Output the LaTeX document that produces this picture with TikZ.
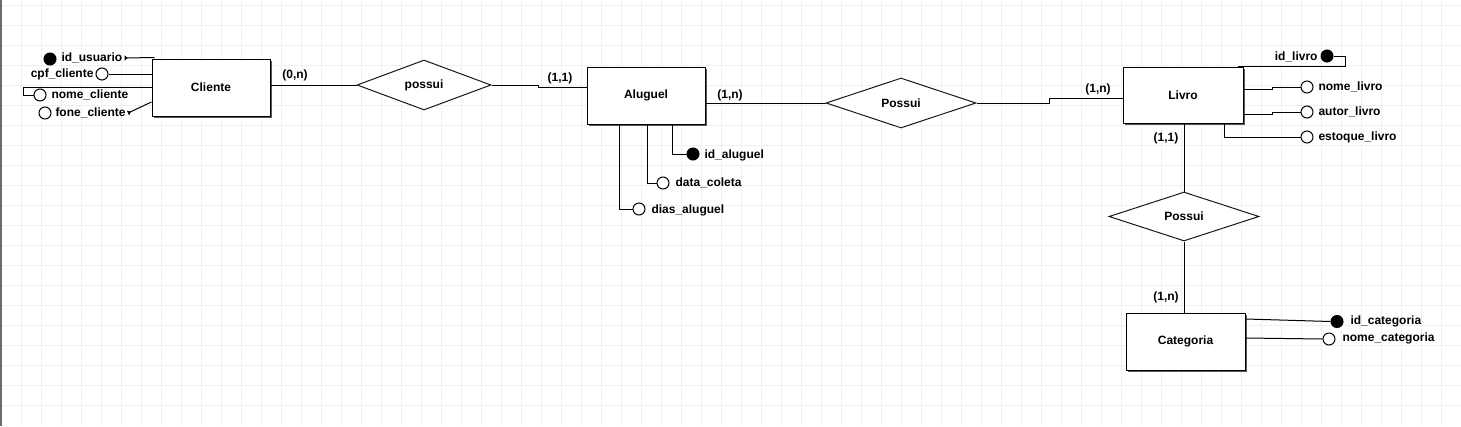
\documentclass[tikz,border=0pt]{standalone}
\usepackage{fontspec}
\setmainfont{Liberation Sans}
\usetikzlibrary{shapes.geometric,shadows,arrows.meta,calc}
\definecolor{gridc}{HTML}{EDF0F5}
\definecolor{barc}{HTML}{6B6B6B}
\begin{document}
\begin{tikzpicture}[x=1pt,y=-1pt,line width=1pt,
  font=\bfseries\fontsize{12}{14}\selectfont,
  entity/.style={draw, fill=white, minimum width=118pt, minimum height=57pt, inner sep=0,
    general shadow={fill=black!65, shadow xshift=2pt, shadow yshift=-2pt}},
  rel/.style={diamond, draw=black!90, fill=white, minimum height=50pt, inner sep=0, aspect=2.8},
  keyattr/.style={circle, draw, fill=black, minimum size=12pt, inner sep=0},
  attr/.style={circle, draw, fill=white, minimum size=12pt, inner sep=0},
  lbl/.style={inner sep=0, text height=8.5pt, text depth=2.5pt},
  card/.style={lbl},
  tipln/.style={{Triangle[reversed,length=3pt,width=5pt]}-}]
\useasboundingbox (0,0) rectangle (1461,426);
\fill[white] (0,0) rectangle (1461,426);
\foreach \i in {0,...,71} \draw[gridc] (21.7+20*\i,0) -- (21.7+20*\i,426);
\foreach \j in {0,...,20} \draw[gridc] (0,5+20*\j) -- (1461,5+20*\j);
\fill[barc] (0,0) rectangle (2,426);

% entities
\node[entity] (cliente) at (211,87.5) {Cliente};
\node[entity] (aluguel) at (646,95.5) {Aluguel};
\node[entity, minimum width=120pt, minimum height=56pt] (livro) at (1183,95) {Livro};
\node[entity, minimum width=119pt] (categoria) at (1185.5,341.5) {Categoria};

% relationships
\node[rel, minimum width=134pt] (possui1) at (424,85) {possui};
\node[rel, minimum width=150pt] (possui2) at (901,103) {Possui};
\node[rel, minimum width=150pt, minimum height=49pt] (possui3) at (1184,216.5) {Possui};

% Cliente attributes
\node[keyattr] (idus) at (50,59) {};
\node[lbl, anchor=west] (idusT) at (61,58) {id\_usuario};
\node[attr] (cpf) at (102,74) {};
\node[lbl, anchor=east] (cpfT) at (94,74) {cpf\_cliente};
\node[attr] (nome) at (40,95) {};
\node[lbl, anchor=west] (nomeT) at (51,95) {nome\_cliente};
\node[attr] (fone) at (45,113) {};
\node[lbl, anchor=west] (foneT) at (55,113) {fone\_cliente};
\coordinate (nb) at (23,87.5);
\draw[tipln] ([xshift=2pt]idusT.east) -- ([xshift=3pt,yshift=1pt]cliente.north west);
\draw (cpf.east) -- (cpf -| cliente.west);
\draw (cliente.west) -- (nb) |- (nome.west);
\draw[tipln] ([xshift=2pt]foneT.east) -- ([yshift=-14.5pt]cliente.west);

% Aluguel attributes
\node[keyattr] (idal) at (693,154) {};
\node[lbl, anchor=west] (idalT) at (704,155) {id\_aluguel};
\node[attr] (dc) at (663,183) {};
\node[lbl, anchor=west] (dcT) at (675,183) {data\_coleta};
\node[attr] (da) at (639,209) {};
\node[lbl, anchor=west] (daT) at (651,210) {dias\_aluguel};
\draw (idal.west) -| ([xshift=86pt]aluguel.south west);
\draw (dc.west) -| ([xshift=61pt]aluguel.south west);
\draw (da.west) -| ([xshift=33pt]aluguel.south west);

% Livro attributes
\node[keyattr] (idl) at (1327,56) {};
\node[lbl, anchor=east] (idlT) at (1318,57) {id\_livro};
\node[attr] (nl) at (1307,87) {};
\node[lbl, anchor=west] (nlT) at (1318,87) {nome\_livro};
\node[attr] (al) at (1307,112) {};
\node[lbl, anchor=west] (alT) at (1318,112) {autor\_livro};
\node[attr] (el) at (1307,137) {};
\node[lbl, anchor=west] (elT) at (1318,137) {estoque\_livro};
\draw (idl.east) -- ++(12,0) |- ([xshift=-6pt]livro.north east);
\draw ([yshift=6pt]livro.east) -- ++(29,0) |- (nl.west);
\draw ([yshift=-19pt]livro.east) -- ++(29,0) |- (al.west);
\draw ([xshift=-19pt]livro.south east) |- (el.west);

% Categoria attributes
\node[keyattr] (idc) at (1337,321.5) {};
\node[lbl, anchor=west] (idcT) at (1350,321) {id\_categoria};
\node[attr] (nc) at (1329,339) {};
\node[lbl, anchor=west] (ncT) at (1342,338) {nome\_categoria};
\draw ([yshift=22.5pt]categoria.east) -- (idc.west);
\draw ([yshift=3.5pt]categoria.east) -- (nc.west);

% relationship connectors
\draw (cliente.east |- possui1.west) -- (possui1.west);
\draw (possui1.east) -- ++(47,0) |- ([yshift=8.5pt]aluguel.west);
\draw (aluguel.east |- possui2.west) -- (possui2.west);
\draw (possui2.east) -- ++(73,0) |- ([yshift=-3pt]livro.west);
\draw (livro.south -| possui3.north) -- (possui3.north);
\draw (possui3.south) -- (possui3.south |- categoria.north);

% cardinalities
\node[card] (c1) at (295,75) {(0,n)};
\node[card] (c2) at (560,78) {(1,1)};
\node[card] (c3) at (730,95) {(1,n)};
\node[card] (c4) at (1098,89) {(1,n)};
\node[card] (c5) at (1166,138) {(1,1)};
\node[card] (c6) at (1166,297) {(1,n)};
\end{tikzpicture}
\end{document}
